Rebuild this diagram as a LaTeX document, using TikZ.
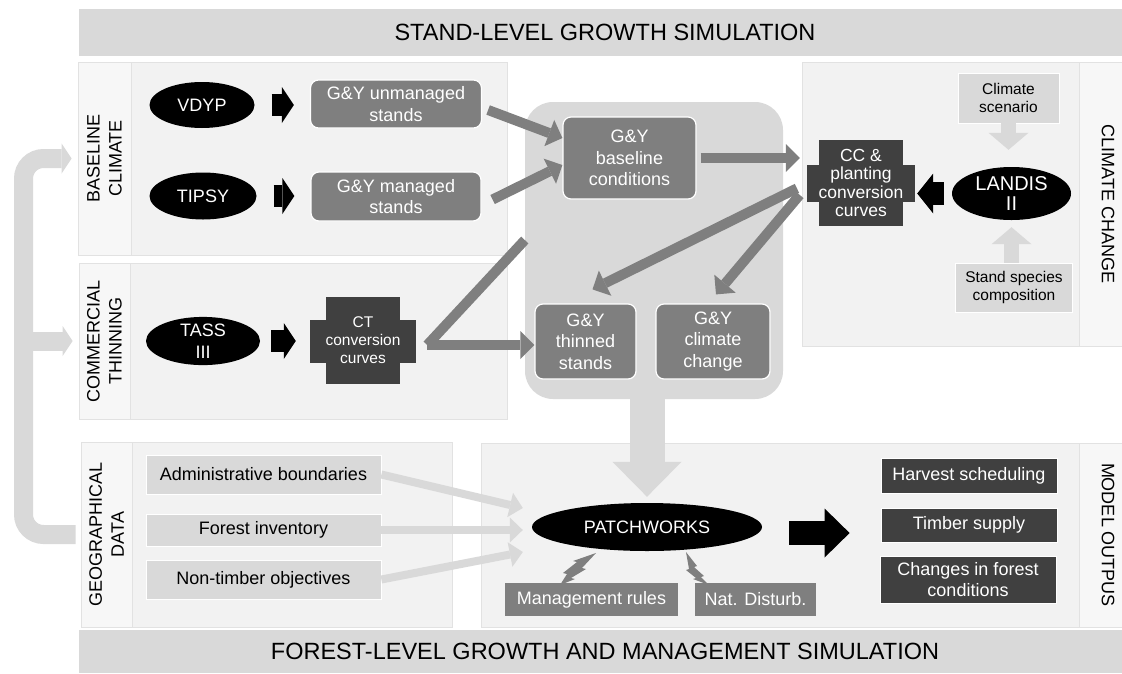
\documentclass[tikz,border=0pt]{standalone}
\usepackage{fontspec}
\setmainfont{Liberation Sans}
\usetikzlibrary{shapes.geometric,arrows.meta}

\definecolor{lgray}{HTML}{D9D9D9}
\definecolor{mgray}{HTML}{7F7F7F}
\definecolor{dgray}{HTML}{404040}
\definecolor{panel}{HTML}{F2F2F2}
\definecolor{strip}{HTML}{F7F7F7}
\definecolor{rim}{HTML}{E2E2E2}

\begin{document}
\begin{tikzpicture}[x=1pt, y=-1pt,
	txt/.style={inner sep=0pt, align=center, font=\fontsize{18}{21.5}\selectfont},
	model/.style={txt, ellipse, fill=black, text=white},
	gybox/.style={txt, rounded corners=8pt, fill=mgray, draw=white, line width=1.2pt, text=white},
	crossarm/.style={txt, fill=dgray, text=white},
	inbox/.style={txt, fill=lgray, draw=white, line width=0.8pt},
	outbox/.style={txt, fill=dgray, draw=white, line width=0.8pt, text=white},
	rulebox/.style={txt, fill=mgray, text=white},
	stripbox/.style={txt, fill=strip, draw=rim, line width=0.8pt, font=\fontsize{18}{22}\selectfont},
	banner/.style={txt, fill=lgray, font=\fontsize{23.5}{27}\selectfont},
	midarrow/.style={draw=mgray, line width=10pt, -{Triangle[length=14pt,width=28pt,line width=0pt]}},
	midline/.style={draw=mgray, line width=10pt},
	geoarrow/.style={draw=lgray, line width=8pt, -{Triangle[length=13pt,width=25pt,line width=0pt]}},
	climarrow/.style={draw=lgray, line width=15pt, -{Triangle[length=17pt,width=40pt,line width=0pt]}},
	downarrow/.style={draw=lgray, line width=35pt, -{Triangle[length=35pt,width=69pt,line width=0pt]}},
	blackarrow/.style={draw=black, line width=22pt, -{Triangle[length=12pt,width=36pt,line width=0pt]}},
	bracket/.style={draw=lgray, line width=19pt, rounded corners=20pt}
]

\useasboundingbox (0,0) rectangle (1122,673);

% banners
\node[banner, minimum width=1052pt, minimum height=47pt] (stand) at (605,32.5) {STAND-LEVEL GROWTH SIMULATION};
\node[banner, minimum width=1052pt, minimum height=43pt] (forestlvl) at (605,651.5) {FOREST-LEVEL GROWTH AND MANAGEMENT SIMULATION};

% panels
\foreach \xa/\ya/\xb/\yb in {131/62/507/255, 130/263/507/419, 132/442/452/627, 802/62/1079/346, 481/443/1079/627}{
	\draw[fill=panel, draw=rim, line width=0.8pt] (\xa,\ya) rectangle (\xb,\yb);
}

\node[stripbox, rotate=90, minimum width=193pt, minimum height=53pt] (blstrip) at (104.5,158.5) {BASELINE\\CLIMATE};
\node[stripbox, rotate=90, minimum width=156pt, minimum height=51pt] (ctstrip) at (104.5,341) {COMMERCIAL\\THINNING};
\node[stripbox, rotate=90, minimum width=185pt, minimum height=51pt] (gdstrip) at (106.5,534.5) {GEOGRAPHICAL\\DATA};
\node[stripbox, rotate=-90, minimum width=284pt, minimum height=58pt] (ccstrip) at (1108,204) {CLIMATE CHANGE};
\node[stripbox, rotate=-90, minimum width=184pt, minimum height=58pt] (mostrip) at (1108,535) {MODEL OUTPUS};

% the rotated strips: page left is .north
\coordinate (spine) at (23.5,400);
\draw[bracket, -{Triangle[length=10pt,width=30pt,line width=0pt]}, shorten <=5pt, shorten >=6pt] (gdstrip.north) -| (spine) |- (blstrip.north);
\draw[bracket, -{Triangle[length=10pt,width=30pt,line width=0pt]}, shorten >=6pt] (spine |- ctstrip.north) -- (ctstrip.north);

\node[fill=lgray, rounded corners=28pt, minimum width=258pt, minimum height=297pt, inner sep=0pt] (gyzone) at (654,250.5) {};

% stand level
\node[model, minimum width=105pt, minimum height=46pt] (vdyp) at (202,105) {VDYP};
\node[model, minimum width=107pt, minimum height=47pt] (tipsy) at (203,196) {TIPSY};
\node[model, minimum width=114pt, minimum height=47pt] (tass) at (203,341) {TASS\\III};
\node[gybox, minimum width=171pt, minimum height=48pt] (unman) at (396,104) {G\&Y unmanaged\\stands};
\node[gybox, minimum width=170pt, minimum height=49pt] (man) at (396,196.5) {G\&Y managed\\stands};
\node[crossarm, minimum width=106pt, minimum height=43pt] (ctarm) at (363,341) {};
\node[crossarm, minimum width=55pt, minimum height=87pt, font=\fontsize{15.5}{18}\selectfont] (ct) at (363,340) {CT\\conversion\\curves};

\node[gybox, minimum width=133pt, minimum height=82pt] (base) at (629.5,158) {G\&Y\\baseline\\conditions};
\node[gybox, minimum width=101pt, minimum height=75pt] (thinned) at (585.5,341.5) {G\&Y\\thinned\\stands};
\node[gybox, minimum width=114pt, minimum height=75pt] (gycc) at (713,341.5) {G\&Y\\climate\\change};

\node[crossarm, minimum width=108pt, minimum height=37pt] (ccarm) at (861,183.5) {};
\node[crossarm, minimum width=60pt, minimum height=86pt, font=\fontsize{17.5}{18.5}\selectfont] (cc) at (861,183) {CC \&\\planting\\conversion\\curves};
\node[model, minimum width=119pt, minimum height=53pt, font=\fontsize{20}{20}\selectfont] (landis) at (1011.5,193.5) {LANDIS\\II};
\node[inbox, minimum width=101pt, minimum height=50pt, font=\fontsize{15.5}{18.5}\selectfont] (scen) at (1008.5,98) {Climate\\scenario};
\node[inbox, minimum width=117pt, minimum height=49pt, font=\fontsize{15.5}{18.5}\selectfont] (species) at (1014,287.5) {Stand species\\composition};

% forest level
\node[inbox, minimum width=235pt, minimum height=39pt] (admin) at (263.5,474.5) {Administrative boundaries};
\node[inbox, minimum width=235pt, minimum height=32pt] (forest) at (263.5,530) {Forest inventory};
\node[inbox, minimum width=235pt, minimum height=39pt] (ntimber) at (263.5,579.5) {Non-timber objectives};
\node[model, minimum width=230pt, minimum height=48pt] (patch) at (647,527) {PATCHWORKS};
\node[rulebox, minimum width=173pt, minimum height=33pt] (rules) at (591.5,599.5) {Management rules};
\node[rulebox, minimum width=121pt, minimum height=33pt] (natd) at (755.5,599.5) {Nat. Disturb.};
\node[outbox, minimum width=176pt, minimum height=35pt] (harvest) at (969,475.5) {Harvest scheduling};
\node[outbox, minimum width=176pt, minimum height=34pt] (timber) at (969,525) {Timber supply};
\node[outbox, minimum width=176pt, minimum height=47pt] (changes) at (968,579.5) {Changes in forest\\conditions};

% connectors
\foreach \a/\b/\s/\e in {vdyp/unman/17pt/16pt, tipsy/man/17pt/16pt, tass/ctarm/11pt/14pt}{
	\draw[blackarrow, shorten <=\s, shorten >=\e] (\a.east) -- (\a.east -| \b.west);
}
\draw[blackarrow, line width=23pt, -{Triangle[length=16pt,width=40pt,line width=0pt]}, shorten <=8pt, shorten >=2pt] (landis.west) -- (landis.west -| ccarm.east);
\draw[blackarrow, line width=24pt, -{Triangle[length=25pt,width=49pt,line width=0pt]}, shorten <=27pt, shorten >=31pt] ([yshift=-6pt]patch.east) -- ([yshift=-6pt]patch.east -| timber.west);

\draw[midarrow] ([xshift=6pt,yshift=-6pt]unman.east) -- ([yshift=20pt]base.west);
\draw[midarrow] ([xshift=11pt,yshift=-3pt]man.east) -- ([yshift=-7pt]base.west);
\coordinate (ctv) at ([xshift=11pt,yshift=-4pt]ctarm.east);
\draw[midarrow] (ctv) -- (ctv -| thinned.west);
\draw[midline] (ctv) -- (intersection of ctv--base.south west and gyzone.north west--gyzone.south west);
\draw[midarrow, shorten <=4pt, shorten >=7pt] (base.east) -- (base.east -| ccarm.west);
\draw[midarrow, shorten <=11pt] (ccarm.west) -- ([shift={(7,-14)}]thinned.north);
\draw[midarrow, shorten <=11pt] ([yshift=-3pt]ccarm.west) -- ([shift={(3,-9)}]gycc.north);

\draw[climarrow, shorten >=17pt] (scen.south) -- (scen.south |- landis.north);
\draw[climarrow, shorten >=7pt] (landis.south |- species.north) -- (landis.south);

\draw[downarrow, shorten >=6pt] (patch.north |- gyzone.south) -- (patch.north);
\draw[geoarrow] (admin.east) -- ([shift={(-9,-19)}]patch.west);
\draw[geoarrow, shorten >=9pt] (forest.east) -- (forest.east -| patch.west);
\draw[geoarrow] (ntimber.east) -- ([shift={(-9,25)}]patch.west);

% lightning
\fill[mgray] (596,553) -- (582,568) -- (586,569) -- (571,578) -- (575,579) -- (560,585) -- (567,574) -- (563,573) -- (577,562) -- (573,561) -- cycle;
\fill[mgray] (686,552) -- (697,566) -- (694,567) -- (704,576) -- (701,577) -- (709,585) -- (693,579) -- (696,578) -- (686,570) -- (689,569) -- cycle;

\end{tikzpicture}
\end{document}
